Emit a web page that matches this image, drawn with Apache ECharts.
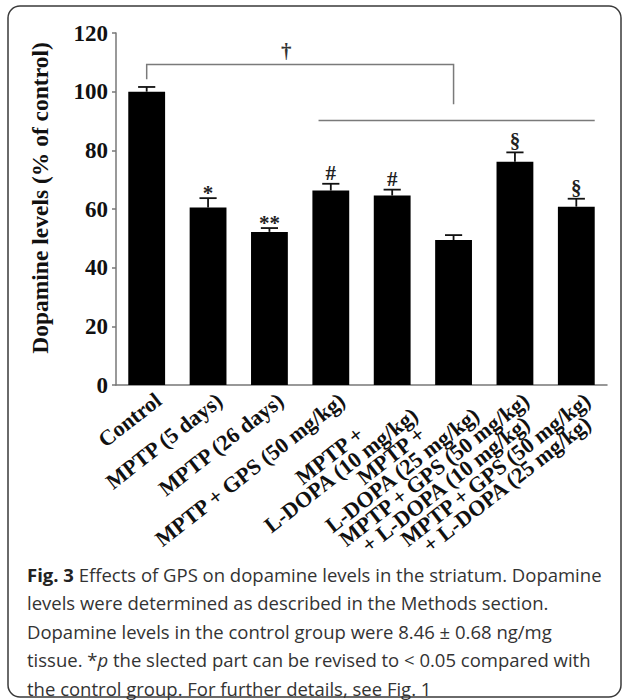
<!DOCTYPE html>
<html>
<head>
<meta charset="utf-8">
<script src="https://cdn.jsdelivr.net/npm/echarts@6/dist/echarts.min.js"></script>
<style>
html,body{margin:0;padding:0;background:#fff;}
#chart{width:627px;height:700px;}
</style>
</head>
<body>
<div id="chart"></div>
<script>
// ---- data ----
const categories = [
  'Control',
  'MPTP (5 days)',
  'MPTP (26 days)',
  'MPTP + GPS (50 mg/kg)',
  'MPTP +\nL-DOPA (10 mg/kg)',
  'MPTP +\nL-DOPA (25 mg/kg)',
  'MPTP + GPS (50 mg/kg)\n+ L-DOPA (10 mg/kg)',
  'MPTP + GPS (50 mg/kg)\n+ L-DOPA (25 mg/kg)'
];
const dopamine = [100, 60.5, 52.2, 66.3, 64.6, 49.4, 76.1, 60.8];
const sem = [1.6, 3.2, 1.3, 2.3, 2.0, 1.7, 3.2, 2.7];
const significance = ['', '*', '**', '#', '#', '', '§', '§'];
const yTicks = [0, 20, 40, 60, 80, 100, 120];
// dagger bracket: Control vs MPTP + L-DOPA (25 mg/kg)
const daggerBracket = { from: 0, to: 5, top: 109.3, leftEnd: 104.2, rightEnd: 95.7, mark: '†' };
// horizontal line spanning the treatment groups
const groupLine = { from: 3, to: 7, level: 90.2 };

const captionLines = [
  '{b|Fig. 3} Effects of GPS on dopamine levels in the striatum. Dopamine',
  'levels were determined as described in the Methods section.',
  'Dopamine levels in the control group were 8.46 ± 0.68 ng/mg',
  'tissue. *{i|p} the slected part can be revised to < 0.05 compared with',
  'the control group. For further details, see Fig. 1'
];

const serif = 'Liberation Serif';
const capFont = 'Open Sans';
const capSize = 18.5;
const chart = echarts.init(document.getElementById('chart'), null, { renderer: 'svg' });

const captionGraphics = captionLines.map((line, k) => ({
  type: 'text',
  x: 27,
  y: 574 + 28.5 * k,
  silent: true,
  style: {
    text: line,
    x: 0, y: 0,
    verticalAlign: 'middle',
    align: 'left',
    fontFamily: capFont,
    fontSize: capSize,
    fill: '#333',
    rich: {
      b: { fontFamily: capFont, fontSize: capSize, fontWeight: 'bold', fill: '#222' },
      i: { fontFamily: capFont, fontSize: capSize, fontStyle: 'italic', fill: '#333' }
    }
  }
}));

const labelRotation = 38 * Math.PI / 180;

const option = {
  animation: false,
  graphic: [
    {
      type: 'rect',
      shape: { x: 8, y: 6, width: 613, height: 691, r: 12 },
      style: { fill: 'none', stroke: '#3a3a3a', lineWidth: 1.5 },
      silent: true
    }
  ].concat(captionGraphics),
  grid: { left: 116, right: 20, top: 33, bottom: 315 },
  xAxis: {
    type: 'category',
    data: categories,
    axisLine: { lineStyle: { color: '#777', width: 1.5 } },
    axisTick: { show: false },
    axisLabel: { show: false }
  },
  yAxis: {
    type: 'value',
    min: yTicks[0],
    max: yTicks[yTicks.length - 1],
    interval: yTicks[1] - yTicks[0],
    name: 'Dopamine levels (% of control)',
    nameLocation: 'middle',
    nameGap: 64,
    nameTextStyle: { fontFamily: serif, fontWeight: 'bold', fontSize: 23.5, color: '#111', padding: [0, 0, 0, 22] },
    axisLine: { show: true, lineStyle: { color: '#777', width: 1.5 } },
    axisTick: { show: true, length: 4, lineStyle: { color: '#777', width: 1.5 } },
    splitLine: { show: false },
    axisLabel: { margin: 8, color: '#111', fontFamily: serif, fontWeight: 'bold', fontSize: 23 }
  },
  series: [
    {
      type: 'bar',
      data: dopamine,
      barWidth: '60%',
      itemStyle: { color: '#000' },
      silent: true
    },
    {
      // error bars + significance marks
      type: 'custom',
      silent: true,
      data: dopamine.map((v, i) => [i, v, sem[i]]),
      renderItem: function (params, api) {
        const i = api.value(0), v = api.value(1), e = api.value(2);
        const base = api.coord([i, v]);
        const top = api.coord([i, v + e]);
        const band = api.size([1, 0])[0];
        const half = band * 0.14;
        const children = [
          { type: 'line', shape: { x1: base[0], y1: base[1], x2: top[0], y2: top[1] }, style: { stroke: '#111', lineWidth: 1.8 } },
          { type: 'line', shape: { x1: top[0] - half, y1: top[1], x2: top[0] + half, y2: top[1] }, style: { stroke: '#111', lineWidth: 1.8 } }
        ];
        const mark = significance[i];
        if (mark) {
          const isStar = mark.indexOf('*') >= 0;
          children.push({
            type: 'text',
            style: {
              text: mark, x: top[0], y: top[1] - (isStar ? 5 : 11),
              align: 'center', verticalAlign: 'middle',
              fontFamily: serif, fontWeight: 'bold', fontSize: 21, fill: '#222'
            }
          });
        }
        return { type: 'group', children: children };
      }
    },
    {
      // rotated category labels, placed through the category axis
      type: 'custom',
      silent: true,
      clip: false,
      data: categories.map((c, i) => [i, 0]),
      renderItem: function (params, api) {
        const i = api.value(0);
        const p = api.coord([i, 0]);
        const txt = categories[i].split('\n').map(s => '{c|' + s + '}').join('\n');
        return {
          type: 'text',
          x: p[0] + 6,
          y: p[1] + 5,
          rotation: labelRotation,
          style: {
            text: txt,
            x: 0, y: 0,
            align: 'right',
            verticalAlign: 'top',
            rich: {
              c: { align: 'center', fontFamily: serif, fontWeight: 'bold', fontSize: 22, lineHeight: 18.5, fill: '#111' }
            }
          }
        };
      }
    },
    {
      // comparison bracket and group line
      type: 'custom',
      silent: true,
      data: [[0]],
      renderItem: function (params, api) {
        const b = daggerBracket;
        const pL = api.coord([b.from, b.leftEnd]);
        const pLT = api.coord([b.from, b.top]);
        const pRT = api.coord([b.to, b.top]);
        const pR = api.coord([b.to, b.rightEnd]);
        const band = api.size([1, 0])[0];
        const gA = api.coord([groupLine.from, groupLine.level]);
        const gB = api.coord([groupLine.to, groupLine.level]);
        const st = { stroke: '#7a7a7a', lineWidth: 1.5, fill: 'none' };
        return {
          type: 'group',
          children: [
            { type: 'polyline', shape: { points: [pL, pLT, pRT, pR] }, style: st },
            { type: 'line', shape: { x1: gA[0] - band * 0.2, y1: gA[1], x2: gB[0] + band * 0.3, y2: gB[1] }, style: st },
            {
              type: 'text',
              style: {
                text: b.mark, x: pLT[0] + (pRT[0] - pLT[0]) * 0.455, y: pLT[1] - 13,
                align: 'center', verticalAlign: 'middle',
                fontFamily: serif, fontWeight: 'bold', fontSize: 21, fill: '#333'
              }
            }
          ]
        };
      }
    }
  ]
};
chart.setOption(option);
</script>
</body>
</html>
